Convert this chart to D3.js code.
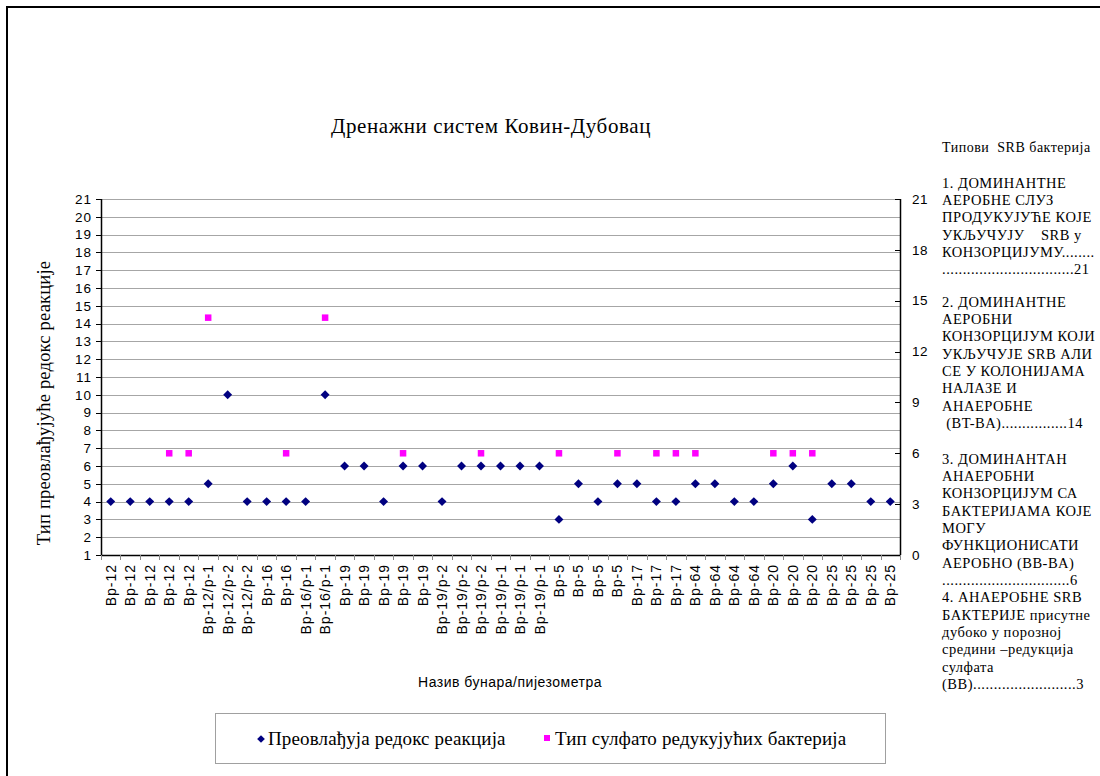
<!DOCTYPE html>
<html><head><meta charset="utf-8">
<script src="https://cdn.jsdelivr.net/npm/d3@7"></script>
<style>body{margin:0;background:#fff}svg{display:block}</style>
</head><body>
<svg id="c" width="1100" height="776"></svg>
<script>
const categories = ["Bp-12","Bp-12","Bp-12","Bp-12","Bp-12","Bp-12/p-1","Bp-12/p-2","Bp-12/p-2","Bp-16","Bp-16","Bp-16/p-1","Bp-16/p-1","Bp-19","Bp-19","Bp-19","Bp-19","Bp-19","Bp-19/p-2","Bp-19/p-2","Bp-19/p-2","Bp-19/p-1","Bp-19/p-1","Bp-19/p-1","Bp-5","Bp-5","Bp-5","Bp-5","Bp-17","Bp-17","Bp-17","Bp-64","Bp-64","Bp-64","Bp-64","Bp-20","Bp-20","Bp-20","Bp-25","Bp-25","Bp-25","Bp-25"];
const redoxValues = [4,4,4,4,4,5,10,4,4,4,4,10,6,6,4,6,6,4,6,6,6,6,6,3,5,4,5,5,4,4,5,5,4,4,5,6,3,5,5,4,4];
const srbValues = [null,null,null,6,6,14,null,null,null,6,null,14,null,null,null,6,null,null,null,6,null,null,null,6,null,null,6,null,6,6,6,null,null,null,6,6,6,null,null,null,null];
const leftTicks = d3.range(1,22);
const rightTicks = [0,3,6,9,12,15,18,21];
const titleText = "Дренажни систем Ковин-Дубовац";
const yTitle = "Тип преовлађујуће редокс реакције";
const xTitle = "Назив бунара/пијезометра";
const seriesNames = ["Преовлађуја редокс реакција","Тип сулфато редукујућих бактерија"];
const sideTitle = "Типови  SRB бактерија";
const sideBlocks = [
 ["1. ДОМИНАНТНЕ","АЕРОБНЕ СЛУЗ","ПРОДУКУЈУЋЕ КОЈЕ","УКЉУЧУЈУ    SRB у","КОНЗОРЦИЈУМУ........","................................21"],
 ["2. ДОМИНАНТНЕ","АЕРОБНИ","КОНЗОРЦИЈУМ КОЈИ","УКЉУЧУЈЕ SRB АЛИ","СЕ У КОЛОНИЈАМА","НАЛАЗЕ И","АНАЕРОБНЕ"," (BT-BA)................14"],
 ["3. ДОМИНАНТАН","АНАЕРОБНИ","КОНЗОРЦИЈУМ СА","БАКТЕРИЈАМА КОЈЕ","МОГУ","ФУНКЦИОНИСАТИ","АЕРОБНО (BB-BA)","...............................6","4. АНАЕРОБНЕ SRB","БАКТЕРИЈЕ присутне","дубоко у порозној","средини –редукција","сулфата","(BB).........................3"]
];
const blockTops = [183, 302, 459];

const svg = d3.select("#c");
const serif = "'Liberation Serif','Times New Roman',serif";
const sans = "'Liberation Sans',Arial,sans-serif";

// outer border
svg.append("path").attr("d","M7,776V7H1100").attr("fill","none").attr("stroke","#000").attr("stroke-width",2);

const L=101, R=900, T=199, B=555;
const x = d3.scaleBand().domain(d3.range(categories.length)).range([L,R]);
const yL = d3.scaleLinear().domain([1,21]).range([B,T]);
const yR = d3.scaleLinear().domain([0,21]).range([B,T]);

// gridlines
svg.append("g").selectAll("line").data(leftTicks.slice(1)).join("line")
 .attr("x1",L).attr("x2",R).attr("y1",d=>Math.round(yL(d))+0.5).attr("y2",d=>Math.round(yL(d))+0.5)
 .attr("stroke","#a6a6a6").attr("stroke-width",1);

// left axis
const gl = svg.append("g");
gl.selectAll("line").data(leftTicks).join("line")
 .attr("x1",L-5).attr("x2",L).attr("y1",d=>Math.round(yL(d))+0.5).attr("y2",d=>Math.round(yL(d))+0.5).attr("stroke","#000");
gl.selectAll("text").data(leftTicks).join("text")
 .attr("x",L-9).attr("y",d=>yL(d)).attr("dy","0.35em").attr("text-anchor","end")
 .attr("font-family",sans).attr("font-size",13.5).attr("letter-spacing",1).text(d=>d);
svg.append("line").attr("x1",L+0.5).attr("x2",L+0.5).attr("y1",T).attr("y2",B).attr("stroke","#000").attr("stroke-width",1.5);

// right axis
const gr = svg.append("g");
gr.selectAll("line").data(rightTicks).join("line")
 .attr("x1",R-5).attr("x2",R).attr("y1",d=>Math.round(yR(d))+0.5).attr("y2",d=>Math.round(yR(d))+0.5).attr("stroke","#000");
gr.selectAll("text").data(rightTicks).join("text")
 .attr("x",R+12).attr("y",d=>yR(d)).attr("dy","0.35em").attr("text-anchor","start")
 .attr("font-family",sans).attr("font-size",13.5).attr("letter-spacing",0.5).text(d=>d);
svg.append("line").attr("x1",R+0.5).attr("x2",R+0.5).attr("y1",T).attr("y2",B).attr("stroke","#000").attr("stroke-width",1.5);

// x axis
svg.append("line").attr("x1",L).attr("x2",R+1).attr("y1",B+0.5).attr("y2",B+0.5).attr("stroke","#000").attr("stroke-width",1.5);
svg.append("g").selectAll("line").data(d3.range(categories.length+1)).join("line")
 .attr("x1",d=>Math.round(L+d*x.step())+0.5).attr("x2",d=>Math.round(L+d*x.step())+0.5)
 .attr("y1",B).attr("y2",B+5).attr("stroke","#888");
svg.append("g").selectAll("text").data(categories).join("text")
 .attr("transform",(d,i)=>`translate(${x(i)+x.bandwidth()/2},${B+9}) rotate(-90)`)
 .attr("dy","0.36em").attr("text-anchor","end")
 .attr("font-family",sans).attr("font-size",14).attr("letter-spacing",1).text(d=>d);

// series
const diamond = d3.symbol(d3.symbolSquare, 40);
svg.append("g").selectAll("path").data(redoxValues).join("path")
 .attr("d",diamond)
 .attr("transform",(d,i)=>`translate(${x(i)+x.bandwidth()/2},${yL(d)}) rotate(45)`)
 .attr("fill","#000080");
const sq = 6.5;
svg.append("g").selectAll("rect").data(srbValues.map((v,i)=>({v,i})).filter(d=>d.v!=null)).join("rect")
 .attr("x",d=>x(d.i)+x.bandwidth()/2-sq/2).attr("y",d=>yR(d.v)-sq/2)
 .attr("width",sq).attr("height",sq).attr("fill","#ff00ff");

// titles
svg.append("text").attr("x",491).attr("y",133).attr("text-anchor","middle")
 .attr("font-family",serif).attr("font-size",21).attr("letter-spacing",0.6).text(titleText);
svg.append("text").attr("transform","translate(50,403) rotate(-90)").attr("text-anchor","middle")
 .attr("font-family",serif).attr("font-size",18.5).attr("letter-spacing",0.2).text(yTitle);
svg.append("text").attr("x",510).attr("y",687).attr("text-anchor","middle")
 .attr("font-family",sans).attr("font-size",14).attr("letter-spacing",0.5).text(xTitle);

// side text
const st = svg.append("g").attr("font-family",serif).attr("font-size",14.5).attr("letter-spacing",0.5).attr("fill","#000");
st.append("text").attr("x",942).attr("y",152).attr("font-size",14).attr("xml:space","preserve").text(sideTitle);
sideBlocks.forEach((blk,bi)=>{
  blk.forEach((line,li)=>{
    st.append("text").attr("x",942).attr("y",blockTops[bi]+4.5+li*17.35).attr("xml:space","preserve").text(line);
  });
});

// legend
svg.append("rect").attr("x",215.5).attr("y",713.5).attr("width",670).attr("height",50)
 .attr("fill","none").attr("stroke","#a0a0a0");
svg.append("path").attr("d",d3.symbol(d3.symbolSquare,30)).attr("transform","translate(261,739) rotate(45)").attr("fill","#000080");
svg.append("text").attr("x",268).attr("y",745).attr("font-family",serif).attr("font-size",19).attr("letter-spacing",0.15).text(seriesNames[0]);
svg.append("rect").attr("x",544).attr("y",735).attr("width",6).attr("height",6).attr("fill","#ff00ff");
svg.append("text").attr("x",555).attr("y",745).attr("font-family",serif).attr("font-size",19).attr("letter-spacing",0.15).text(seriesNames[1]);
</script>
</body></html>
